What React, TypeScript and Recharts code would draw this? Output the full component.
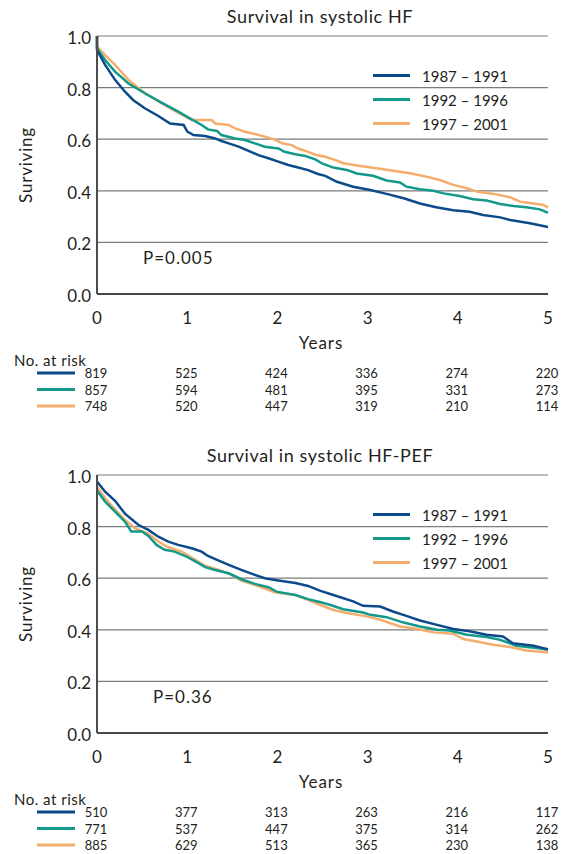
import { LineChart, Line, XAxis, YAxis, CartesianGrid, Legend } from 'recharts'

const years = [0, 1, 2, 3, 4, 5]
const survivalTicks = [0, 0.2, 0.4, 0.6, 0.8, 1.0]
const periods = ['1987 – 1991', '1992 – 1996', '1997 – 2001']
const colors = ['#0c4a8a', '#13998a', '#f4ad6d']

// [years, surviving] – systolic HF
const hf8791 = [
  [0, 1.0], [0, 0.946], [0.09, 0.888], [0.2, 0.83], [0.31, 0.784], [0.4, 0.752], [0.53, 0.72],
  [0.68, 0.69], [0.81, 0.661], [0.96, 0.655], [1.0, 0.63], [1.07, 0.616], [1.2, 0.612],
  [1.31, 0.603], [1.38, 0.593], [1.46, 0.584], [1.57, 0.571], [1.68, 0.555], [1.79, 0.538],
  [1.9, 0.526], [2.01, 0.513], [2.12, 0.5], [2.23, 0.49], [2.34, 0.48], [2.45, 0.465],
  [2.53, 0.458], [2.66, 0.435], [2.84, 0.416], [3.03, 0.403], [3.21, 0.388], [3.4, 0.371],
  [3.58, 0.351], [3.76, 0.336], [3.95, 0.325], [4.13, 0.319], [4.28, 0.306], [4.47, 0.297],
  [4.58, 0.287], [4.8, 0.274], [5.0, 0.26],
]
const hf9296 = [
  [0, 1.0], [0, 0.952], [0.09, 0.907], [0.2, 0.862], [0.35, 0.816], [0.53, 0.778], [0.72, 0.741],
  [0.9, 0.707], [1.05, 0.677], [1.16, 0.655], [1.23, 0.638], [1.33, 0.632], [1.38, 0.616],
  [1.53, 0.603], [1.64, 0.597], [1.75, 0.584], [1.86, 0.571], [2.01, 0.564], [2.08, 0.551],
  [2.2, 0.542], [2.31, 0.535], [2.42, 0.522], [2.5, 0.505], [2.62, 0.49], [2.77, 0.481],
  [2.88, 0.467], [3.06, 0.458], [3.21, 0.44], [3.36, 0.432], [3.43, 0.416], [3.58, 0.406],
  [3.73, 0.4], [3.84, 0.39], [4.02, 0.38], [4.17, 0.367], [4.32, 0.362], [4.47, 0.349],
  [4.62, 0.341], [4.76, 0.336], [4.91, 0.328], [5.0, 0.315],
]
const hf9701 = [
  [0, 1.0], [0, 0.959], [0.09, 0.926], [0.2, 0.888], [0.35, 0.83], [0.53, 0.778], [0.72, 0.739],
  [0.9, 0.703], [1.05, 0.674], [1.27, 0.674], [1.31, 0.661], [1.46, 0.655], [1.53, 0.642],
  [1.64, 0.629], [1.75, 0.62], [1.86, 0.61], [1.97, 0.599], [2.05, 0.584], [2.16, 0.577],
  [2.23, 0.564], [2.34, 0.551], [2.42, 0.54], [2.53, 0.532], [2.66, 0.517], [2.73, 0.507],
  [2.92, 0.496], [3.1, 0.487], [3.28, 0.478], [3.47, 0.468], [3.65, 0.455], [3.8, 0.442],
  [3.95, 0.423], [4.1, 0.41], [4.21, 0.397], [4.4, 0.388], [4.58, 0.375], [4.69, 0.358],
  [4.84, 0.351], [4.95, 0.345], [5.0, 0.336],
]

// systolic HF-PEF
const pef8791 = [
  [0, 0.975], [0.09, 0.935], [0.2, 0.9], [0.31, 0.85], [0.46, 0.806], [0.57, 0.787], [0.68, 0.761],
  [0.79, 0.742], [0.9, 0.729], [1.05, 0.716], [1.16, 0.703], [1.23, 0.686], [1.35, 0.668],
  [1.46, 0.652], [1.6, 0.632], [1.75, 0.613], [1.86, 0.6], [2.01, 0.591], [2.2, 0.581],
  [2.34, 0.57], [2.47, 0.552], [2.62, 0.535], [2.84, 0.51], [2.95, 0.493], [3.14, 0.49],
  [3.28, 0.471], [3.43, 0.454], [3.58, 0.436], [3.77, 0.419], [3.95, 0.403], [4.13, 0.394],
  [4.32, 0.381], [4.5, 0.374], [4.61, 0.348], [4.84, 0.338], [4.95, 0.329], [5.0, 0.325],
]
const pef9296 = [
  [0, 0.94], [0.09, 0.897], [0.2, 0.858], [0.31, 0.819], [0.38, 0.781], [0.5, 0.781], [0.57, 0.764],
  [0.66, 0.729], [0.75, 0.71], [0.86, 0.703], [0.98, 0.686], [1.09, 0.665], [1.2, 0.643],
  [1.31, 0.632], [1.46, 0.619], [1.6, 0.596], [1.75, 0.578], [1.9, 0.565], [1.99, 0.548],
  [2.2, 0.535], [2.34, 0.519], [2.47, 0.508], [2.58, 0.497], [2.73, 0.48], [2.95, 0.467],
  [3.03, 0.458], [3.21, 0.449], [3.4, 0.428], [3.58, 0.413], [3.77, 0.4], [3.91, 0.397],
  [4.1, 0.381], [4.32, 0.372], [4.47, 0.361], [4.65, 0.338], [4.87, 0.329], [5.0, 0.323],
]
const pef9701 = [
  [0, 0.955], [0.09, 0.91], [0.2, 0.867], [0.31, 0.826], [0.42, 0.794], [0.57, 0.772], [0.68, 0.742],
  [0.79, 0.72], [0.94, 0.703], [1.09, 0.671], [1.2, 0.648], [1.35, 0.632], [1.49, 0.613],
  [1.6, 0.591], [1.75, 0.574], [1.97, 0.545], [2.2, 0.535], [2.34, 0.516], [2.47, 0.497],
  [2.62, 0.477], [2.77, 0.465], [2.99, 0.452], [3.14, 0.439], [3.36, 0.413], [3.51, 0.406],
  [3.73, 0.39], [3.95, 0.385], [4.06, 0.364], [4.21, 0.355], [4.39, 0.342], [4.58, 0.333],
  [4.76, 0.32], [5.0, 0.312],
]

// numbers at risk, one row per period
const hfRisk = [
  [819, 525, 424, 336, 274, 220],
  [857, 594, 481, 395, 331, 273],
  [748, 520, 447, 319, 210, 114],
]
const pefRisk = [
  [510, 377, 313, 263, 216, 117],
  [771, 537, 447, 375, 314, 262],
  [885, 629, 513, 365, 230, 138],
]

const ink = '#231f20'
const PLOT_LEFT = 97
const PLOT_W = 451

function PeriodLegend() {
  return (
    <div style={{ fontFamily: 'Lato', fontSize: 15, color: ink }}>
      {periods.map((p, i) => (
        <div key={p} style={{ display: 'flex', alignItems: 'center', height: 24 }}>
          <span style={{ display: 'inline-block', width: 37, height: 3, background: colors[i] }} />
          <span style={{ marginLeft: 12, whiteSpace: 'nowrap' }}>{p}</span>
        </div>
      ))}
    </div>
  )
}

interface PanelProps {
  top: number
  title: string
  pValue: string
  pX: number
  curves: number[][][]
  risk: number[][]
}

function Panel({ top, title, pValue, pX, curves, risk }: PanelProps) {
  const series = curves.map((c) => c.map(([t, s]) => ({ t, s })))
  const order = [2, 1, 0]
  return (
    <div style={{ position: 'absolute', left: 0, top, width: 564, height: 420 }}>
      <LineChart width={564} height={330} margin={{ top: 36, right: 16, bottom: 6, left: 57 }}>
        <CartesianGrid vertical={false} stroke="#7a7b7e" strokeWidth={1.2} />
        <XAxis
          type="number"
          dataKey="t"
          domain={[0, 5]}
          ticks={years}
          height={30}
          tickSize={0}
          tickMargin={18}
          axisLine={{ stroke: ink, strokeWidth: 1.5 }}
          tick={{ fontSize: 17, fill: ink }}
          allowDuplicatedCategory={false}
        />
        <YAxis
          type="number"
          domain={[0, 1]}
          ticks={survivalTicks}
          width={40}
          tickSize={0}
          tickMargin={6}
          axisLine={{ stroke: '#4d4d4f', strokeWidth: 2 }}
          tick={{ fontSize: 17, fill: ink, dy: 2 }}
          tickFormatter={(v: number) => v.toFixed(1)}
        />
        {order.map((i) => (
          <Line
            key={periods[i]}
            data={series[i]}
            dataKey="s"
            name={periods[i]}
            type="linear"
            stroke={colors[i]}
            strokeWidth={2.5}
            dot={false}
            isAnimationActive={false}
          />
        ))}
        <Legend
          layout="horizontal"
          verticalAlign="middle"
          align="center"
          content={() => <PeriodLegend />}
          wrapperStyle={{ left: 373, top: 63.5, width: 160 }}
        />
      </LineChart>
      <svg
        width={564}
        height={420}
        style={{ position: 'absolute', left: 0, top: 0, pointerEvents: 'none', fontFamily: 'Lato' }}
      >
        <text
          x={320}
          y={16}
          textAnchor="middle"
          dominantBaseline="central"
          fontSize={18}
          letterSpacing={0.6}
          fill={ink}
        >
          {title}
        </text>
        <text
          x={25}
          y={165}
          transform="rotate(-90 25 165)"
          textAnchor="middle"
          dominantBaseline="central"
          fontSize={17}
          letterSpacing={0.8}
          fill={ink}
        >
          Surviving
        </text>
        <text x={pX} y={257} dominantBaseline="central" fontSize={17} letterSpacing={1} fill={ink}>
          {pValue}
        </text>
        <text
          x={321}
          y={342}
          textAnchor="middle"
          dominantBaseline="central"
          fontSize={17}
          letterSpacing={1}
          fill={ink}
        >
          Years
        </text>
        <text x={14} y={360} dominantBaseline="central" fontSize={15} letterSpacing={0.5} fill={ink}>
          No. at risk
        </text>
        {risk.map((row, r) => (
          <g key={r}>
            <line x1={37} x2={75} y1={373 + r * 16.5} y2={373 + r * 16.5} stroke={colors[r]} strokeWidth={3} />
            {row.map((n, k) => (
              <text
                key={k}
                x={PLOT_LEFT - 1 + (PLOT_W / 5) * k}
                y={373 + r * 16.5}
                textAnchor="middle"
                dominantBaseline="central"
                fontSize={13}
                fill={ink}
              >
                {n}
              </text>
            ))}
          </g>
        ))}
      </svg>
    </div>
  )
}

export default function App() {
  return (
    <div style={{ position: 'absolute', left: 0, top: 0, width: 564, height: 854, background: '#fff', fontFamily: 'Lato' }}>
      <Panel
        top={0}
        title="Survival in systolic HF"
        pValue="P=0.005"
        pX={143}
        curves={[hf8791, hf9296, hf9701]}
        risk={hfRisk}
      />
      <Panel
        top={439}
        title="Survival in systolic HF-PEF"
        pValue="P=0.36"
        pX={153}
        curves={[pef8791, pef9296, pef9701]}
        risk={pefRisk}
      />
    </div>
  )
}
